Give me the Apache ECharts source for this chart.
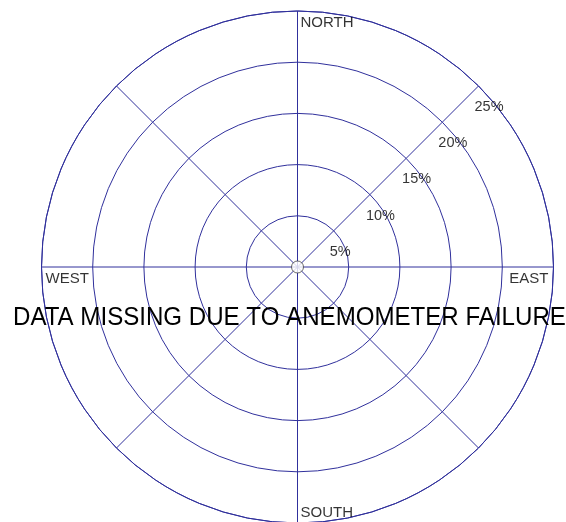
<!DOCTYPE html>
<html>
<head>
<meta charset="utf-8">
<script src="https://cdn.jsdelivr.net/npm/echarts@6/dist/echarts.min.js"></script>
<style>
html,body{margin:0;padding:0;background:#fff;}
#chart{width:566px;height:522px;}
</style>
</head>
<body>
<div id="chart"></div>
<script>
// Data
const ringValues = [5, 10, 15, 20, 25];
const ringLabels = ['5%', '10%', '15%', '20%', '25%'];
const ringLabelAngle = 45;
const directions = ['NORTH', 'EAST', 'SOUTH', 'WEST'];
const directionAngles = [0, 90, 180, 270];
const radiusMax = 25;
const message = 'DATA MISSING DUE TO ANEMOMETER FAILURE';

const lineColor = '#30309c';
const font = '"Liberation Sans", Arial, sans-serif';

const dirLabelStyle = {
  NORTH: { align: 'left', offset: [3, 12] },
  EAST: { align: 'right', offset: [-5, 12] },
  SOUTH: { align: 'left', offset: [3, -10] },
  WEST: { align: 'left', offset: [4, 12] }
};

const chart = echarts.init(document.getElementById('chart'), null, { renderer: 'canvas' });
chart.setOption({
  backgroundColor: '#ffffff',
  animation: false,
  graphic: [{
    type: 'text', x: 13, y: 317.5, scaleY: 1.1, silent: true,
    style: {
      text: message, fontFamily: font, fontSize: 24.1, fill: '#000',
      textAlign: 'left', textVerticalAlign: 'middle'
    },
    z: 10
  }],
  polar: { center: [297.5, 267], radius: 256 },
  angleAxis: {
    type: 'value', min: 0, max: 360, interval: 45, startAngle: 90, clockwise: true,
    axisLine: { show: true, lineStyle: { color: lineColor, width: 1 } },
    axisTick: { show: false },
    axisLabel: { show: false },
    splitLine: { show: true, lineStyle: { color: lineColor, width: 1 } }
  },
  radiusAxis: {
    type: 'value', min: 0, max: radiusMax, interval: 5,
    axisLine: { show: false },
    axisTick: { show: false },
    axisLabel: { show: false },
    splitLine: { show: true, lineStyle: { color: lineColor, width: 1 } }
  },
  series: [
    {
      type: 'scatter', coordinateSystem: 'polar', symbolSize: 0, silent: true,
      data: ringValues.map((v, i) => ({ value: [v, ringLabelAngle], name: ringLabels[i] })),
      label: {
        show: true, position: 'inside', formatter: p => p.name,
        align: 'left', verticalAlign: 'middle', offset: [-4, 21],
        fontFamily: font, fontSize: 14.5, color: '#000'
      }
    },
    {
      type: 'scatter', coordinateSystem: 'polar', symbolSize: 0, silent: true,
      data: directions.map((d, i) => ({
        value: [radiusMax, directionAngles[i]], name: d,
        label: dirLabelStyle[d]
      })),
      label: {
        show: true, position: 'inside', formatter: p => p.name,
        verticalAlign: 'middle',
        fontFamily: font, fontSize: 15, color: '#000'
      }
    },
    {
      type: 'scatter', coordinateSystem: 'polar', symbol: 'circle', symbolSize: 12, silent: true,
      itemStyle: { color: '#ffffff', borderColor: '#444444', borderWidth: 1 },
      data: [[0, 0]]
    }
  ]
});
</script>
</body>
</html>
